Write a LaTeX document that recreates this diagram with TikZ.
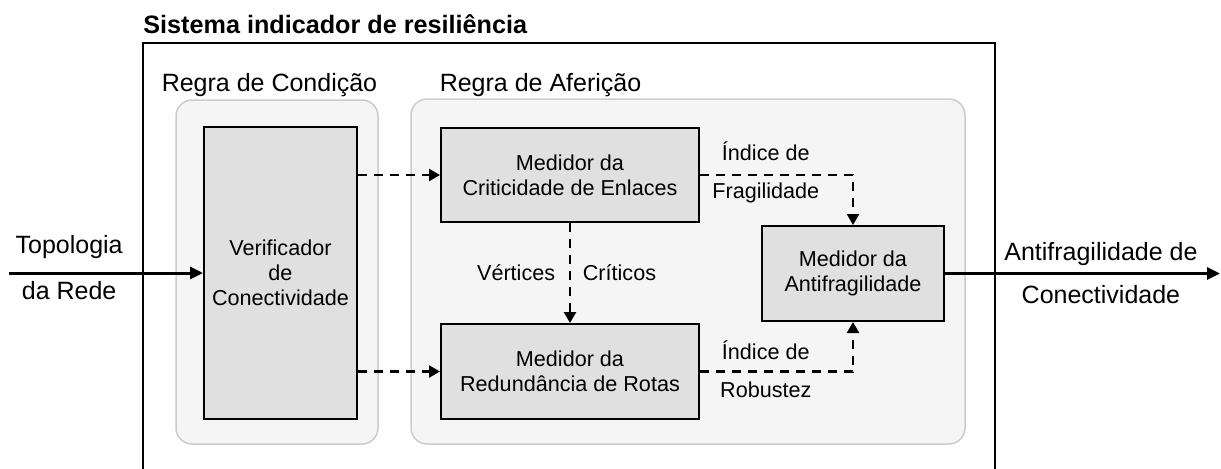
\documentclass[tikz,border=0pt]{standalone}
\usepackage{fontspec}
\setmainfont{Liberation Sans}
\usepackage{tikz}
\usetikzlibrary{arrows.meta}
\definecolor{grpfill}{HTML}{F5F5F5}
\definecolor{grpline}{HTML}{CCCCCC}
\definecolor{boxfill}{HTML}{E0E0E0}

\begin{document}
\begin{tikzpicture}[x=0.5pt, y=-0.5pt,
  box/.style = {draw, line width=1pt, fill=boxfill, align=center, inner sep=0pt,
                font=\fontsize{10.8}{12.5}\selectfont},
  grp/.style = {draw=grpline, line width=0.75pt, fill=grpfill, rounded corners=8pt},
  lbl/.style = {font=\fontsize{10.8}{12.5}\selectfont},
  big/.style = {font=\fontsize{12.5}{15}\selectfont},
  flow/.style = {-{Triangle[length=5.5pt,width=6pt]}, line width=1.2pt, dash pattern=on 4.5pt off 3.5pt},
  feed/.style = {-{Triangle[length=6.5pt,width=6pt]}, line width=1.5pt}]
\useasboundingbox (0,0) rectangle (1221,468);

% outer frame and groups
\node[draw, line width=0.75pt, anchor=north west, minimum width=426pt, minimum height=240pt] (sys) at (142,42) {};
\node[anchor=base west, inner sep=0pt, font=\bfseries\fontsize{12.6}{15}\selectfont] (titulo) at (143,33) {Sistema indicador de resiliência};
\node[grp, minimum width=101pt, minimum height=172pt] (cond) at (277,272) {};
\node[grp, minimum width=277pt, minimum height=172.5pt] (afer) at (688,271.5) {};
\node[big, anchor=base] (condtxt) at (269.5,91) {Regra de Condição};
\node[big, anchor=base] (afertxt) at (540.5,91) {Regra de Aferição};

% blocks
\node[box, minimum width=76.5pt, minimum height=146pt] (verif) at (280.5,273) {Verificador\\de\\Conectividade};
\node[box, minimum width=129pt, minimum height=47pt] (crit) at (570,175) {Medidor da\\Criticidade de Enlaces};
\node[box, minimum width=129pt, minimum height=47.5pt] (redund) at (570,371.5) {Medidor da\\Redundância de Rotas};
\node[box, minimum width=91pt, minimum height=47.5pt] (antif) at (853,273.5) {Medidor da\\Antifragilidade};

\coordinate (src) at (9,273);
\coordinate (dst) at (1220,273.5);

% connections
\draw[feed] (src) -- node[big, pos=0.31, above, yshift=3pt] (topo) {Topologia}
  node[big, pos=0.31, below] (rede) {da Rede} (verif.west);
\draw[flow] (verif.east |- crit.west) -- (crit.west);
\draw[flow] (verif.east |- redund.west) -- (redund.west);
\draw[flow] (crit) -- node[lbl, left, xshift=-3.5pt] (vert) {Vértices}
  node[lbl, right, xshift=2.5pt] (crits) {Críticos} (redund);
\draw[flow] (crit.east) -| node[lbl, pos=0.215, above, yshift=3pt] (ind1) {Índice de}
  node[lbl, pos=0.215, below] (frag) {Fragilidade} (antif.north);
\draw[flow] (redund.east) -| node[lbl, pos=0.215, above, yshift=2pt] (ind2) {Índice de}
  node[lbl, pos=0.215, below, yshift=-1pt] (rob) {Robustez} (antif.south);
\draw[feed] (antif.east) -- node[big, pos=0.567, above] (saida1) {Antifragilidade de}
  node[big, pos=0.567, below, yshift=-2pt] (saida2) {Conectividade} (dst);
\end{tikzpicture}
\end{document}
